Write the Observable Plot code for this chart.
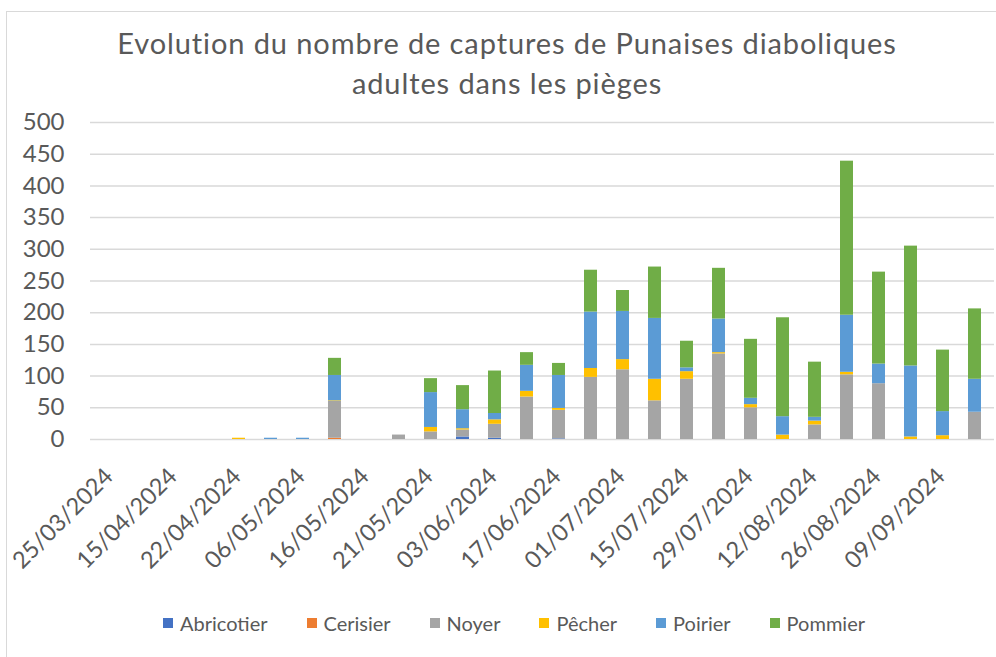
<!DOCTYPE html>
<html>
<head>
<meta charset="utf-8">
<script src="https://cdn.jsdelivr.net/npm/d3@7"></script>
<script src="https://cdn.jsdelivr.net/npm/@observablehq/plot@0.6"></script>
<style>
  html, body { margin: 0; padding: 0; background: #fff; overflow: hidden; }
  #wrap { position: relative; width: 996px; height: 657px; font-family: Lato, "Open Sans", sans-serif; color: #595959; }
  #frame { position: absolute; left: 6px; top: 11px; width: 1000px; height: 700px; border: 1px solid #D9D9D9; box-sizing: border-box; }
  #title { position: absolute; left: 0; width: 1014px; top: 23px; text-align: center; font-size: 29px; line-height: 40px; letter-spacing: 0.9px; }
  #chart { position: absolute; left: 0; top: 0; }
  #legend { position: absolute; top: 611px; left: 0; width: 1028px; display: flex; justify-content: center; gap: 39px; font-size: 20px; }
  .item { display: flex; align-items: center; gap: 7px; }
  .sw { width: 10px; height: 10px; display: inline-block; }
</style>
</head>
<body>
<div id="wrap">
  <div id="frame"></div>
  <div id="title">Evolution du nombre de captures de Punaises diaboliques<br>adultes dans les pièges</div>
  <div id="chart"></div>
  <div id="legend"></div>
</div>
<script>
const dates = ["25/03/2024","08/04/2024","15/04/2024","18/04/2024","22/04/2024","29/04/2024","06/05/2024","13/05/2024","16/05/2024","17/05/2024","21/05/2024","27/05/2024","03/06/2024","10/06/2024","17/06/2024","24/06/2024","01/07/2024","08/07/2024","15/07/2024","22/07/2024","29/07/2024","05/08/2024","12/08/2024","19/08/2024","26/08/2024","02/09/2024","09/09/2024","16/09/2024"];
const tickLabels = ["25/03/2024","15/04/2024","22/04/2024","06/05/2024","16/05/2024","21/05/2024","03/06/2024","17/06/2024","01/07/2024","15/07/2024","29/07/2024","12/08/2024","26/08/2024","09/09/2024"];
const yTicks = [0,50,100,150,200,250,300,350,400,450,500];

const species = ["Abricotier","Cerisier","Noyer","Pêcher","Poirier","Pommier"];
const colors = ["#4472C4","#ED7D31","#A5A5A5","#FFC000","#5B9BD5","#70AD47"];

const abricotier = [0,0,0,0,0,0,0,0,0,0,0,4,2,0,1,0,0,0,0,0,0,0,0,0,0,0,0,0];
const cerisier   = [0,0,0,0,0,0,0,2,0,0,0,0,0,0,0,0,0,0,0,0,0,0,0,0,0,0,0,0];
const noyer      = [0,0,0,0,0,0,0,58,0,7,12,11,22,67,45,98,110,61,95,135,50,0,23,102,88,0,0,43];
const pecher     = [0,0,0,0,2,0,0,1,0,0,7,2,7,9,3,14,16,34,12,2,5,7,6,4,0,4,6,0];
const poirier    = [0,0,0,0,0,2,2,40,0,0,55,30,10,41,52,89,76,96,6,53,10,29,6,90,31,112,38,52];
const pommier    = [0,0,0,0,0,0,0,27,0,0,22,38,67,20,19,66,33,81,42,80,93,156,87,243,145,189,97,111];

const series = [abricotier, cerisier, noyer, pecher, poirier, pommier];
const data = [];
species.forEach((s, si) => {
  dates.forEach((d, i) => {
    if (series[si][i] > 0) data.push({date: d, species: s, value: series[si][i]});
  });
});

const svg = Plot.plot({
  width: 996,
  height: 600,
  marginLeft: 90,
  marginRight: 2,
  marginTop: 122,
  marginBottom: 161,
  x: {domain: dates, paddingInner: 0.6, paddingOuter: 0.3, label: null},
  y: {domain: [0, 500], label: null},
  color: {domain: species, range: colors},
  style: {fontFamily: "Lato, 'Open Sans', sans-serif", color: "#595959", background: "transparent"},
  marks: [
    Plot.gridY(yTicks, {stroke: "#D9D9D9", strokeOpacity: 1, strokeWidth: 1.5}),
    Plot.axisY(yTicks, {tickSize: 0, tickPadding: 26, fontSize: 24, label: null, fill: "#595959"}),
    Plot.axisX(tickLabels, {tickSize: 0, tickPadding: 33, dx: -2, tickRotate: -45, fontSize: 23.5, label: null, fill: "#595959"}),
    Plot.barY(data, {x: "date", y: "value", fill: "species"})
  ]
});
document.getElementById("chart").appendChild(svg);

const legend = document.getElementById("legend");
species.forEach((s, i) => {
  const it = document.createElement("div");
  it.className = "item";
  it.innerHTML = `<span class="sw" style="background:${colors[i]}"></span><span>${s}</span>`;
  legend.appendChild(it);
});
</script>
</body>
</html>
